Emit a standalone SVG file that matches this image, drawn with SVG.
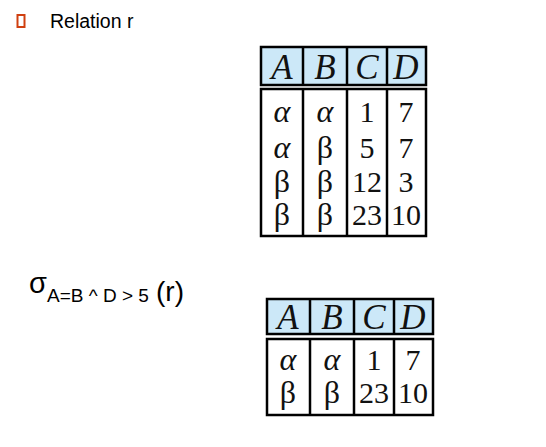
<svg xmlns="http://www.w3.org/2000/svg" width="546" height="447" viewBox="0 0 546 447">
<style>
.hdr{fill:#cce8f8;stroke:#000;stroke-width:2.5}
.body{fill:#fff;stroke:#000;stroke-width:2.5}
.ln{stroke:#000;stroke-width:2.5}
.h{font-family:"Liberation Serif","DejaVu Serif",serif;font-style:italic;font-size:35px;text-anchor:middle;fill:#111}
.c{font-family:"Liberation Serif","DejaVu Serif",serif;font-size:30px;text-anchor:middle;fill:#111}
.g{font-style:italic;font-size:32px}
.b{font-size:32px}
.s{font-family:"Liberation Sans",Arial,sans-serif;fill:#000}
</style>
<rect width="546" height="447" fill="#fff"/>
<g id="title">
<rect x="17.5" y="15" width="7" height="12" fill="none" stroke="#d04010" stroke-width="2"/>
<text class="s" x="50" y="28" font-size="19.5">Relation r</text>
</g>
<g id="selection">
<text class="s" x="29" y="293" font-size="29">σ</text>
<text class="s" x="47" y="302" font-size="19">A=B ^ D &gt; 5</text>
<text class="s" x="156" y="301" font-size="28">(r)</text>
</g>
<g id="relation-r">
<rect class="hdr" x="261" y="47" width="165" height="38"/>
<line class="ln" x1="303" y1="47" x2="303" y2="85"/>
<line class="ln" x1="347" y1="47" x2="347" y2="85"/>
<line class="ln" x1="387" y1="47" x2="387" y2="85"/>
<text class="h" x="282" y="79">A</text>
<text class="h" x="325" y="79">B</text>
<text class="h" x="367" y="79">C</text>
<text class="h" x="406" y="79">D</text>
<rect class="body" x="261" y="89" width="165" height="147"/>
<line class="ln" x1="303" y1="89" x2="303" y2="236"/>
<line class="ln" x1="347" y1="89" x2="347" y2="236"/>
<line class="ln" x1="387" y1="89" x2="387" y2="236"/>
<text class="c g" x="282" y="122">α</text><text class="c g" x="325" y="122">α</text><text class="c" x="367" y="122">1</text><text class="c" x="406" y="122">7</text>
<text class="c g" x="282" y="158">α</text><text class="c b" x="325" y="158">β</text><text class="c" x="367" y="158">5</text><text class="c" x="406" y="158">7</text>
<text class="c b" x="282" y="192">β</text><text class="c b" x="325" y="192">β</text><text class="c" x="367" y="192">12</text><text class="c" x="406" y="192">3</text>
<text class="c b" x="282" y="225">β</text><text class="c b" x="325" y="225">β</text><text class="c" x="367" y="225">23</text><text class="c" x="406" y="225">10</text>
</g>
<g id="result">
<rect class="hdr" x="267" y="299" width="166" height="35"/>
<line class="ln" x1="310" y1="299" x2="310" y2="334"/>
<line class="ln" x1="354" y1="299" x2="354" y2="334"/>
<line class="ln" x1="394" y1="299" x2="394" y2="334"/>
<text class="h" x="288" y="329">A</text>
<text class="h" x="332" y="329">B</text>
<text class="h" x="374" y="329">C</text>
<text class="h" x="413" y="329">D</text>
<rect class="body" x="267" y="339" width="166" height="76"/>
<line class="ln" x1="310" y1="339" x2="310" y2="415"/>
<line class="ln" x1="354" y1="339" x2="354" y2="415"/>
<line class="ln" x1="394" y1="339" x2="394" y2="415"/>
<text class="c g" x="288" y="370">α</text><text class="c g" x="332" y="370">α</text><text class="c" x="374" y="370">1</text><text class="c" x="413" y="370">7</text>
<text class="c b" x="288" y="403">β</text><text class="c b" x="332" y="403">β</text><text class="c" x="374" y="403">23</text><text class="c" x="413" y="403">10</text>
</g>
</svg>
